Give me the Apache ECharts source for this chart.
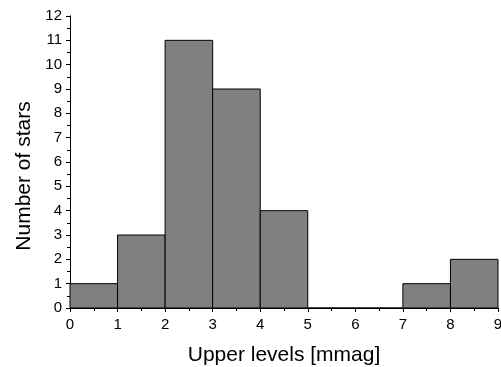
<!DOCTYPE html>
<html>
<head>
<meta charset="utf-8">
<script src="https://cdn.jsdelivr.net/npm/echarts@6/dist/echarts.min.js"></script>
<style>
  html, body { margin: 0; padding: 0; background: #fff; }
  #chart { width: 501px; height: 367px; }
</style>
</head>
<body>
<div id="chart"></div>
<script>
// histogram bins: left edge, right edge, count
var binStart = [0, 1, 2, 3, 4, 5, 6, 7, 8];
var binEnd = [1, 2, 3, 4, 5, 6, 7, 8, 9];
var starCounts = [1, 3, 11, 9, 4, 0, 0, 1, 2];

var data = [];
for (var i = 0; i < binStart.length; i++) {
  data.push([binStart[i], binEnd[i], starCounts[i]]);
}

var font = 'Liberation Sans, Arial, sans-serif';
var axisLine = { show: true, lineStyle: { color: '#000', width: 1 } };

var chart = echarts.init(document.getElementById('chart'));
chart.setOption({
  animation: false,
  grid: { left: 70, right: 3, top: 16, bottom: 59, outerBoundsMode: 'none', containLabel: false },
  xAxis: [
    {
      type: 'value', min: 0, max: 9, interval: 1,
      name: 'Upper levels [mmag]', nameLocation: 'middle', nameGap: 37,
      nameTextStyle: { fontFamily: font, fontSize: 21, color: '#000' },
      axisLine: axisLine,
      axisTick: { show: true, length: 4, lineStyle: { color: '#000' } },
      minorTick: { show: true, splitNumber: 2, length: 3, lineStyle: { color: '#000' } },
      axisLabel: { fontFamily: font, fontSize: 15, color: '#000', margin: 9 },
      splitLine: { show: false }
    },
    {
      type: 'value', min: 0, max: 9, interval: 1, position: 'top',
      axisLine: axisLine,
      axisTick: { show: true, inside: true, length: 4, lineStyle: { color: '#000' } },
      minorTick: { show: true, splitNumber: 2, length: 3, lineStyle: { color: '#000' } },
      axisLabel: { show: false },
      splitLine: { show: false }
    }
  ],
  yAxis: [
    {
      type: 'value', min: 0, max: 12, interval: 1,
      name: 'Number of stars', nameLocation: 'middle', nameGap: 35,
      nameTextStyle: { fontFamily: font, fontSize: 21, color: '#000', padding: [0, 28, 0, 0] },
      axisLine: axisLine,
      axisTick: { show: true, length: 4, lineStyle: { color: '#000' } },
      minorTick: { show: true, splitNumber: 2, length: 3, lineStyle: { color: '#000' } },
      axisLabel: { fontFamily: font, fontSize: 15, color: '#000', margin: 8 },
      splitLine: { show: false }
    },
    {
      type: 'value', min: 0, max: 12, interval: 1, position: 'right',
      axisLine: axisLine,
      axisTick: { show: true, inside: true, length: 4, lineStyle: { color: '#000' } },
      minorTick: { show: true, splitNumber: 2, length: 3, lineStyle: { color: '#000' } },
      axisLabel: { show: false },
      splitLine: { show: false }
    }
  ],
  series: [{
    type: 'custom',
    xAxisIndex: 0,
    yAxisIndex: 0,
    data: data,
    renderItem: function (params, api) {
      var p0 = api.coord([api.value(0), 0]);
      var p1 = api.coord([api.value(1), api.value(2)]);
      return {
        type: 'rect',
        shape: { x: p0[0], y: p1[1], width: p1[0] - p0[0], height: p0[1] - p1[1] },
        style: { fill: '#808080', stroke: '#000', lineWidth: 1 }
      };
    }
  }]
});
</script>
</body>
</html>
